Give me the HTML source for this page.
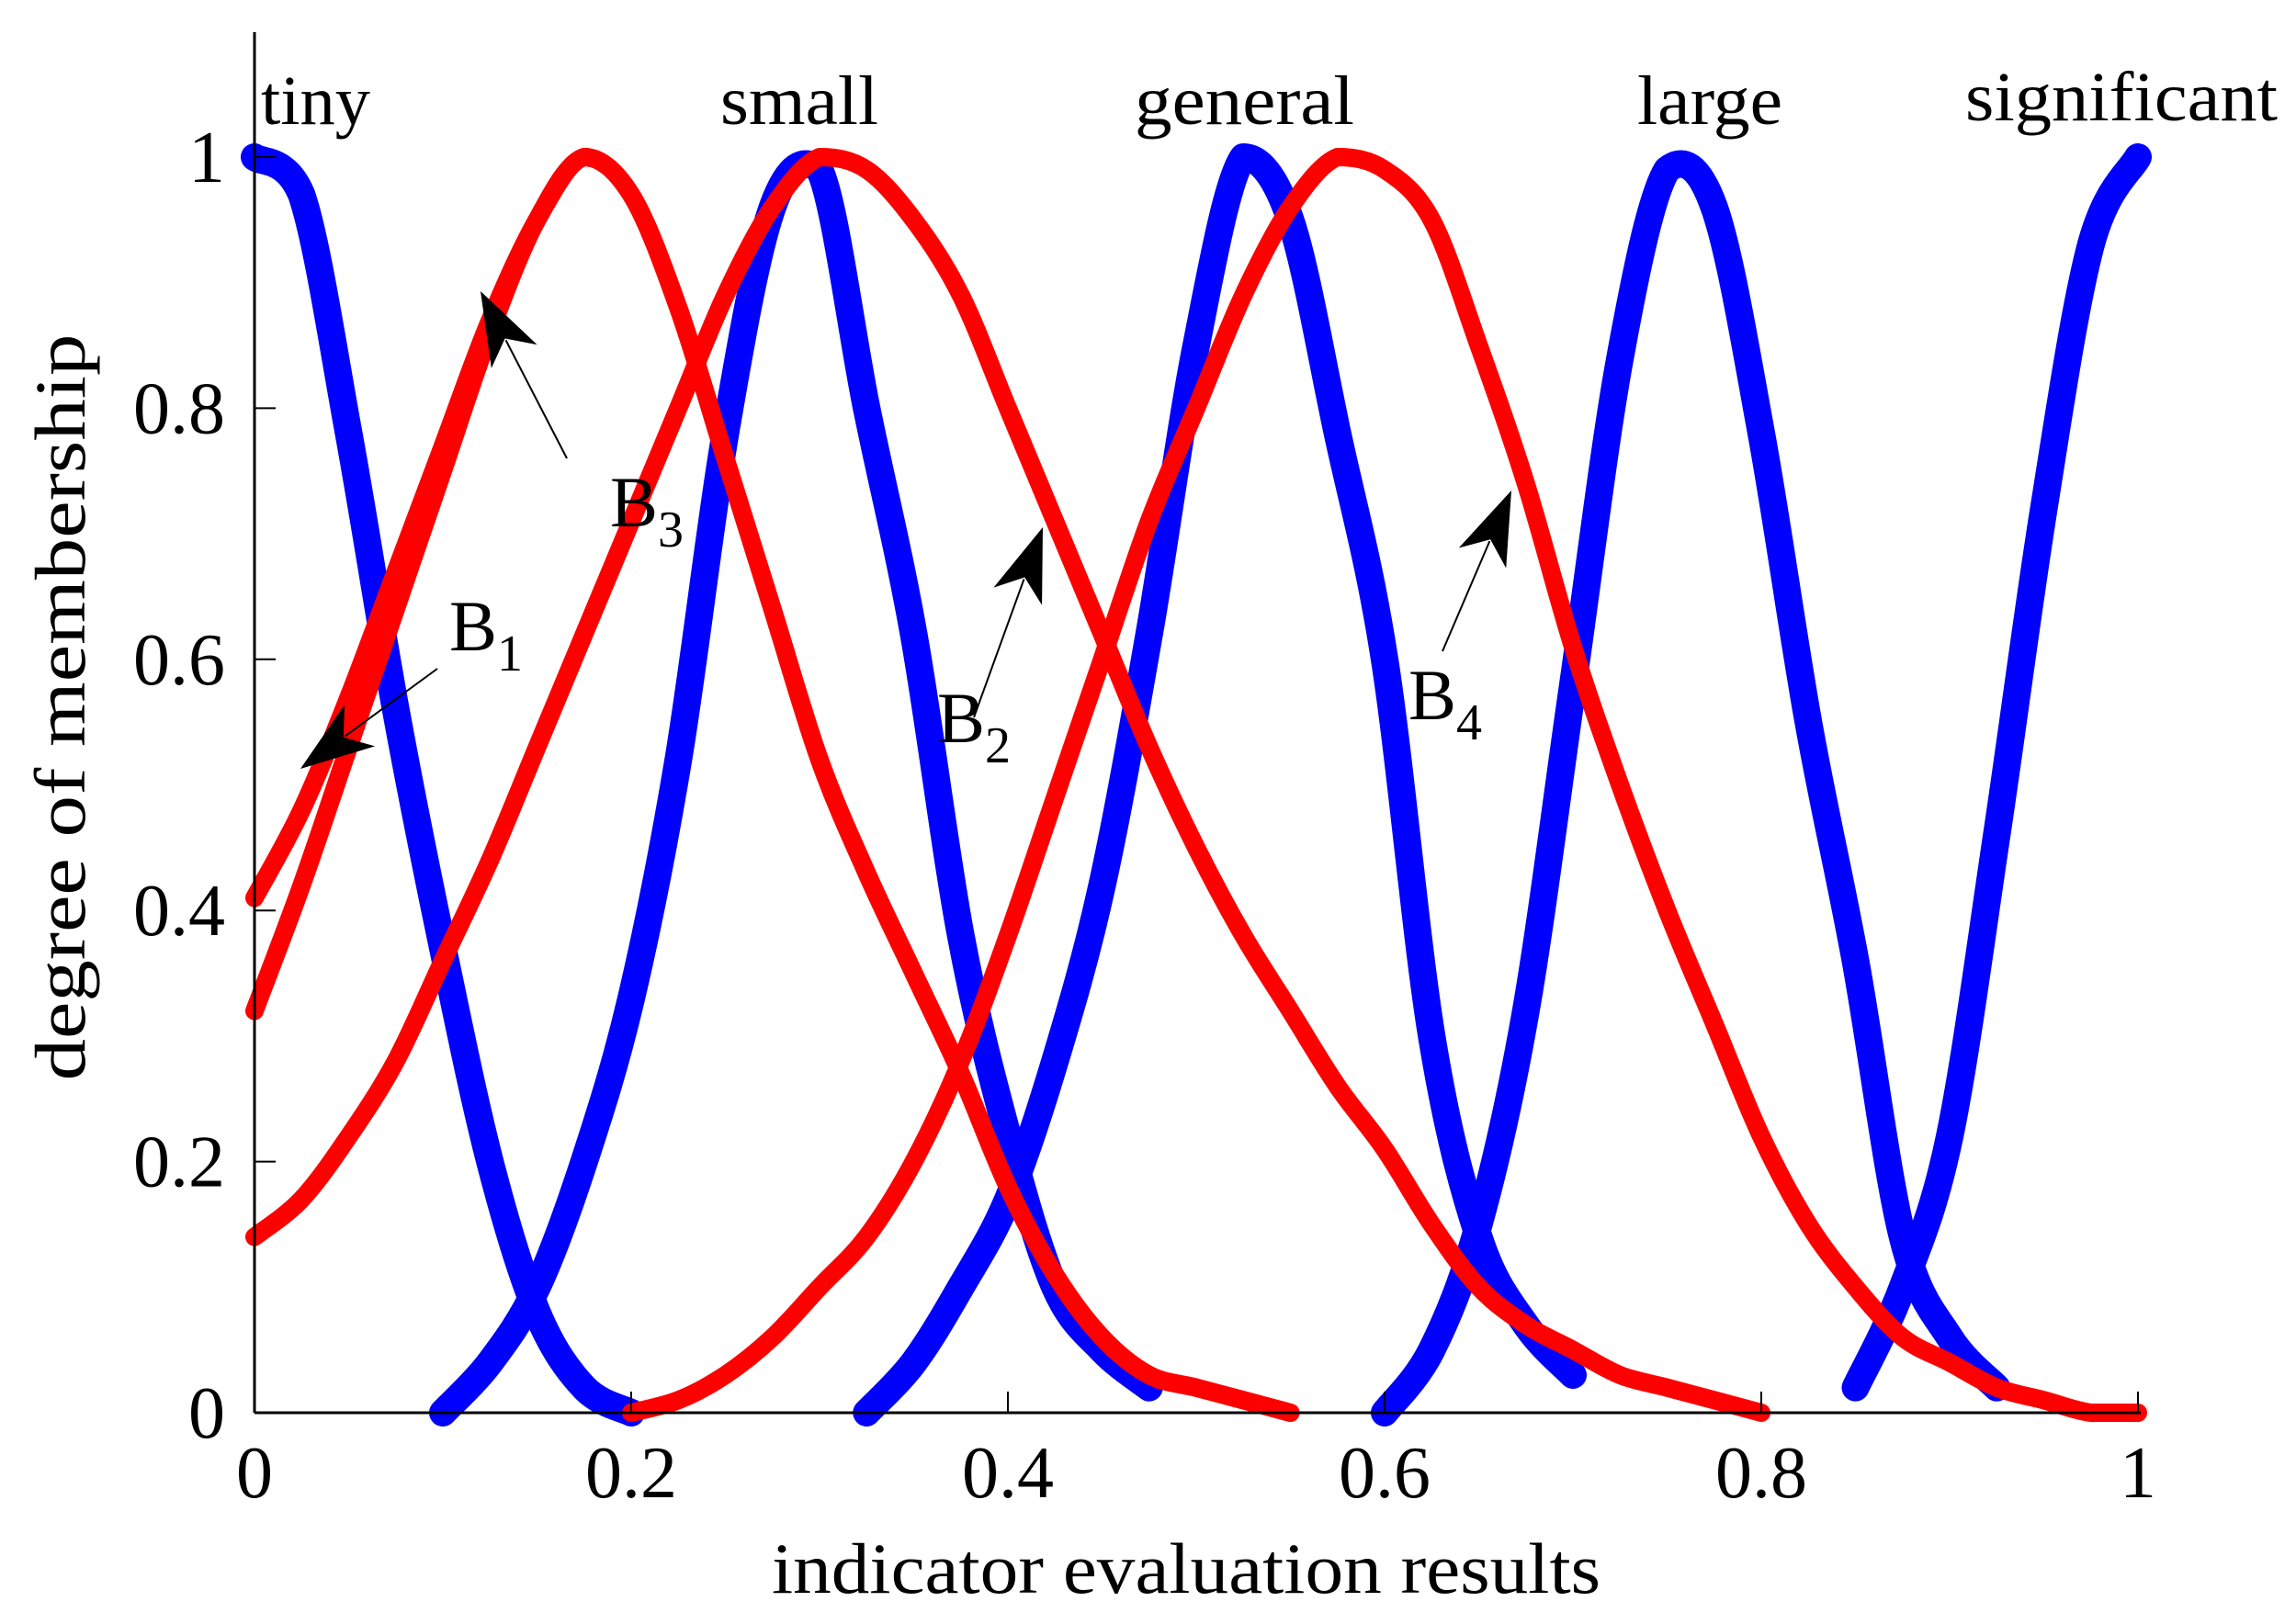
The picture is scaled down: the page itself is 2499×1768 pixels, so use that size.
<!DOCTYPE html>
<html><head><meta charset="utf-8"><style>
html,body{margin:0;padding:0;background:#fff}
svg{display:block}
text{font-family:"Liberation Serif",serif;fill:#000}
</style></head><body>
<svg id="chart" width="2499" height="1768" viewBox="0 0 2499 1768" xmlns="http://www.w3.org/2000/svg">
<g id="marks"></g>
<g id="axes"></g>
<g id="annot"></g>
</svg>
<script>
const xGrid = [0,0.025,0.05,0.075,0.1,0.125,0.15,0.175,0.2,0.225,0.25,0.275,0.3,0.325,0.35,0.375,0.4,0.425,0.45,0.475,0.5,0.525,0.55,0.575,0.6,0.625,0.65,0.675,0.7,0.725,0.75,0.775,0.8,0.825,0.85,0.875,0.9,0.925,0.95,0.975,1];
const N = null;
const blueTiny = [1,0.97,0.78,0.56,0.37,0.2,0.08,0.02,0,N,N,N,N,N,N,N,N,N,N,N,N,N,N,N,N,N,N,N,N,N,N,N,N,N,N,N,N,N,N,N,N];
const blueSmall = [N,N,N,N,0,0.04,0.1,0.2,0.33,0.52,0.78,0.96,0.99,0.8,0.62,0.38,0.22,0.1,0.05,0.02,N,N,N,N,N,N,N,N,N,N,N,N,N,N,N,N,N,N,N,N,N];
const blueGeneral = [N,N,N,N,N,N,N,N,N,N,N,N,N,0,0.04,0.1,0.17,0.28,0.42,0.62,0.85,1,0.95,0.78,0.6,0.3,0.14,0.07,0.03,N,N,N,N,N,N,N,N,N,N,N,N];
const blueLarge = [N,N,N,N,N,N,N,N,N,N,N,N,N,N,N,N,N,N,N,N,N,N,N,N,0,0.05,0.15,0.32,0.58,0.84,0.99,0.96,0.78,0.55,0.36,0.14,0.06,0.02,N,N,N];
const blueSignificant = [N,N,N,N,N,N,N,N,N,N,N,N,N,N,N,N,N,N,N,N,N,N,N,N,N,N,N,N,N,N,N,N,N,N,0.02,0.1,0.22,0.46,0.72,0.93,1];
const redB1 = [0.41,0.48,0.57,0.67,0.77,0.87,0.95,1,0.97,0.88,0.76,0.64,0.52,0.43,0.35,0.27,0.18,0.11,0.06,0.03,0.02,0.01,0,N,N,N,N,N,N,N,N,N,N,N,N,N,N,N,N,N,N];
const redB3 = [0.32,0.42,0.53,0.64,0.75,0.86,0.95,1,0.97,0.88,0.76,0.64,0.52,0.43,0.35,0.27,0.18,0.11,0.06,0.03,0.02,0.01,0,N,N,N,N,N,N,N,N,N,N,N,N,N,N,N,N,N,N];
const redB2 = [0.14,0.17,0.22,0.28,0.36,0.44,0.53,0.62,0.71,0.8,0.89,0.96,1,0.99,0.95,0.89,0.8,0.71,0.62,0.53,0.45,0.38,0.32,0.26,0.21,0.15,0.1,0.07,0.05,0.03,0.02,0.01,0,N,N,N,N,N,N,N,N];
const redB4 = [N,N,N,N,N,N,N,N,0,0.01,0.03,0.06,0.1,0.14,0.2,0.28,0.38,0.49,0.6,0.71,0.8,0.89,0.96,1,0.99,0.95,0.85,0.74,0.61,0.5,0.4,0.31,0.22,0.15,0.1,0.06,0.04,0.02,0.01,0,0];
const xTicks = [0,0.2,0.4,0.6,0.8,1];
const xTickLabels = ["0","0.2","0.4","0.6","0.8","1"];
const yTicks = [0,0.2,0.4,0.6,0.8,1];
const yTickLabels = ["0","0.2","0.4","0.6","0.8","1"];
const catLabels = ["tiny","small","general","large","significant"];

const X0=277,X1=2327,Y0=1538,Y1=171;
const sx=v=>X0+(X1-X0)*v;
const sy=v=>Y0-(Y0-Y1)*v;
const NS="http://www.w3.org/2000/svg";
function mk(tag,attrs,parent){const e=document.createElementNS(NS,tag);for(const k in attrs)e.setAttribute(k,attrs[k]);parent.appendChild(e);return e;}
const marks=document.getElementById('marks');
function smoothPath(s){
  let d=`M${s[0][0]},${s[0][1]}`;
  for(let i=0;i<s.length-1;i++){
    const p0=s[Math.max(0,i-1)],p1=s[i],p2=s[i+1],p3=s[Math.min(s.length-1,i+2)];
    let c1y=p1[1]+(p2[1]-p0[1])/6, c2y=p2[1]-(p3[1]-p1[1])/6;
    c1y=Math.min(Math.max(c1y,Y1),Y0); c2y=Math.min(Math.max(c2y,Y1),Y0);
    const c1x=p1[0]+(p2[0]-p0[0])/6, c2x=p2[0]-(p3[0]-p1[0])/6;
    d+=` C${c1x},${c1y} ${c2x},${c2y} ${p2[0]},${p2[1]}`;
  }
  return d;
}
function drawSeries(vals,color,w,name){
  let segs=[],cur=[];
  vals.forEach((v,i)=>{if(v===null){if(cur.length)segs.push(cur);cur=[];}else cur.push([sx(xGrid[i]),sy(v)]);});
  if(cur.length)segs.push(cur);
  segs.forEach(s=>{
    const p=mk('path',{d:smoothPath(s),fill:'none',stroke:color,'stroke-width':w,'stroke-linecap':'round','stroke-linejoin':'round'},marks);
    
    
  });
}
drawSeries(blueTiny,'#0000ff',30,'blue-tiny');
drawSeries(blueSmall,'#0000ff',30,'blue-small');
drawSeries(blueGeneral,'#0000ff',30,'blue-general');
drawSeries(blueLarge,'#0000ff',30,'blue-large');
drawSeries(blueSignificant,'#0000ff',30,'blue-significant');
drawSeries(redB1,'#ff0000',20,'red-b1');
drawSeries(redB3,'#ff0000',20,'red-b3');
drawSeries(redB2,'#ff0000',20,'red-b2');
drawSeries(redB4,'#ff0000',20,'red-b4');

const axes=document.getElementById('axes');
let a=mk('line',{x1:X0,y1:35,x2:X0,y2:Y0,stroke:'#000','stroke-width':3},axes);


a=mk('line',{x1:X0,y1:Y0,x2:X1+3,y2:Y0,stroke:'#000','stroke-width':3},axes);


xTicks.forEach((t,i)=>{
  const l=mk('line',{x1:sx(t),y1:Y0,x2:sx(t),y2:Y0-23,stroke:'#000','stroke-width':2},axes);
  
  
  const tx=mk('text',{x:sx(t),y:1630,'font-size':80,'text-anchor':'middle'},axes);
  tx.textContent=xTickLabels[i];
  
  
});
yTicks.forEach((t,i)=>{
  const l=mk('line',{x1:X0,y1:sy(t),x2:X0+23,y2:sy(t),stroke:'#000','stroke-width':2},axes);
  
  
  const tx=mk('text',{x:245,y:sy(t)+27,'font-size':80,'text-anchor':'end'},axes);
  tx.textContent=yTickLabels[i];
  
  
});
let t=mk('text',{x:1291,y:1734,'font-size':78,'text-anchor':'middle',textLength:902,lengthAdjust:'spacingAndGlyphs'},axes);
t.textContent='indicator evaluation results';


t=mk('text',{x:0,y:0,'font-size':78,'text-anchor':'middle',textLength:813,lengthAdjust:'spacingAndGlyphs',transform:'translate(92,770) rotate(-90)'},axes);
t.textContent='degree of membership';



const catPos=[[284,135,119],[784,135,172],[1235,135,239],[1782,135,158],[2139,131,340]];
catLabels.forEach((c,i)=>{
  const e=mk('text',{x:catPos[i][0],y:catPos[i][1],'font-size':76,textLength:catPos[i][2],lengthAdjust:'spacingAndGlyphs'},axes);
  e.textContent=c;
  
  
});

const an=document.getElementById('annot');
function arrow(x1,y1,x2,y2,name){
  const dx=x2-x1,dy=y2-y1,L=Math.hypot(dx,dy),ux=dx/L,uy=dy/L;
  const hl=80,hw=28;
  const bx=x2-ux*hl,by=y2-uy*hl;
  const l=mk('line',{x1:x1,y1:y1,x2:bx+ux*20,y2:by+uy*20,stroke:'#000','stroke-width':2},an);
  
  
  const ix=bx+ux*22,iy=by+uy*22;
  const p=mk('polygon',{points:`${x2},${y2} ${bx-uy*hw},${by+ux*hw} ${ix},${iy} ${bx+uy*hw},${by-ux*hw}`,fill:'#000'},an);
  
  
}
arrow(617,499,523,317,'b3');
arrow(476,728,327,837,'b1');
arrow(1060,781,1135,574,'b2');
arrow(1570,709,1645,534,'b4');
function blabel(x,y,sub,name){
  const e=mk('text',{x:x,y:y,'font-size':78},an);
  e.textContent='B';
  const s=mk('tspan',{dy:22,'font-size':56},e);
  s.textContent=sub;
  
  
}
blabel(664,573,'3','b3');
blabel(489,708,'1','b1');
blabel(1020,808,'2','b2');
blabel(1533,783,'4','b4');
</script>
</body></html>
